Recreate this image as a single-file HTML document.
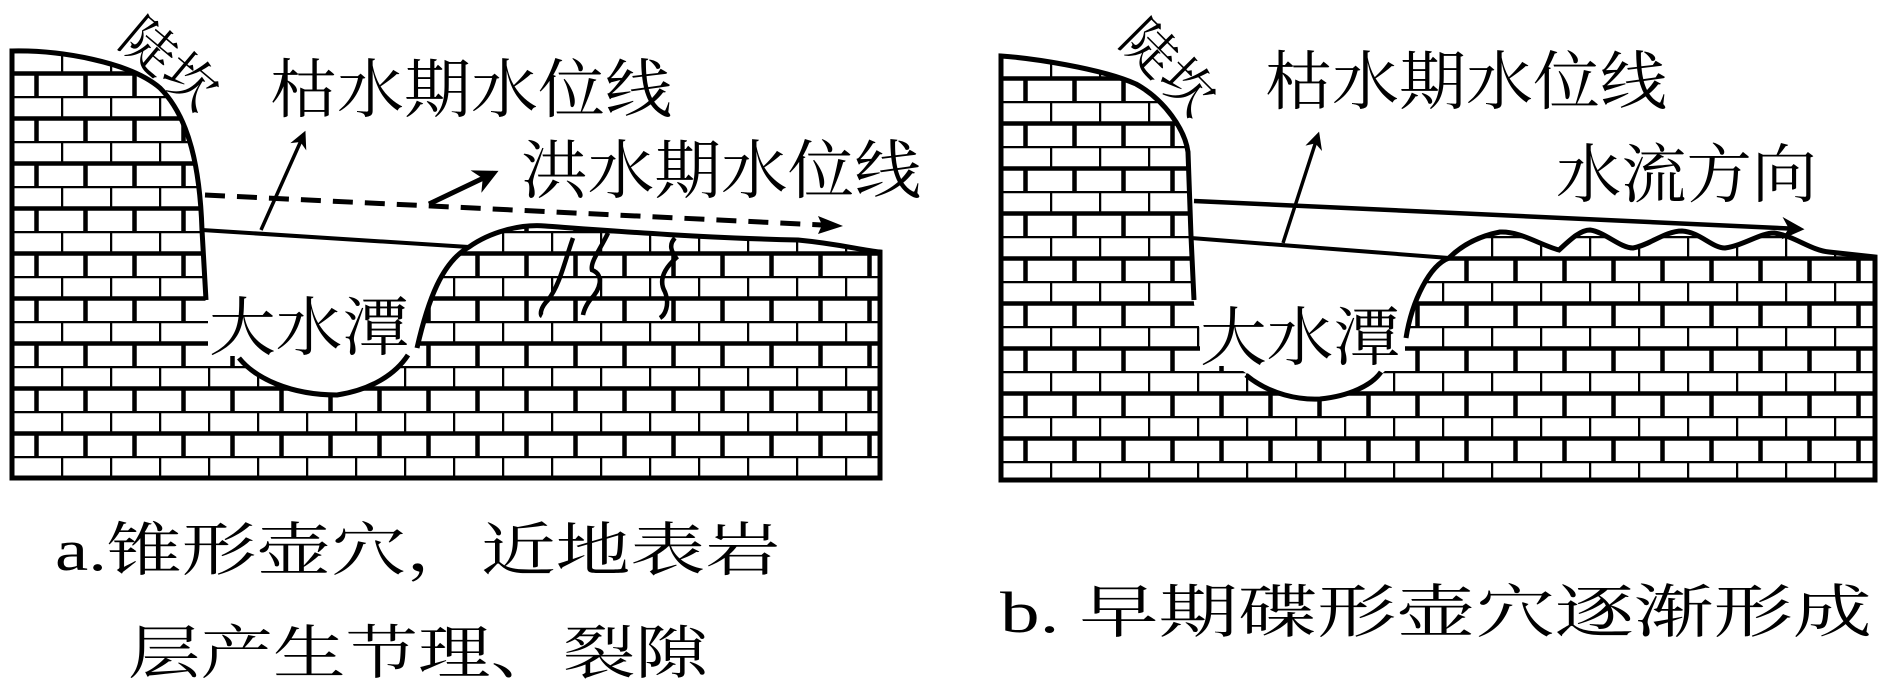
<!DOCTYPE html>
<html><head><meta charset="utf-8"><style>
html,body{margin:0;padding:0;background:#fff;}
svg{display:block;}
text{font-family:"Liberation Serif","Noto Serif CJK SC",serif;fill:#000;}
</style></head><body>
<svg width="1904" height="698" viewBox="0 0 1904 698" xmlns="http://www.w3.org/2000/svg">
<defs>
<pattern id="ba" x="12" y="51" width="49" height="45" patternUnits="userSpaceOnUse">
<path d="M0,0H49M0,22.5H49M0,0V22.5M24.5,22.5V45" stroke="#000" stroke-width="4.5" fill="none"/>
</pattern>
<pattern id="bb" x="1001" y="56" width="49" height="45" patternUnits="userSpaceOnUse">
<path d="M0,0H49M0,22.5H49M0,0V22.5M24.5,22.5V45" stroke="#000" stroke-width="4.5" fill="none"/>
</pattern>
<marker id="ah" viewBox="0 0 10 10" refX="8" refY="5" markerWidth="5" markerHeight="5" orient="auto">
<path d="M0,0L10,5L0,10L3,5Z" fill="#000"/>
</marker>
</defs>

<!-- Panel a -->
<path d="M12,51 C60,50 130,62 160,88 C190,118 200,170 202,230 L206,310 L228,345 C255,380 300,398 340,395 C380,388 400,368 417,345 C428,300 442,262 469,247 C490,232 520,224 545,226 C600,230 700,238 798,240 C840,244 860,250 880,252 L880,478 L12,478 Z" fill="url(#ba)" stroke="none"/>
<rect x="208" y="290" width="212" height="66" fill="#fff"/>
<path d="M239,358 C255,378 290,395 337,395 C370,390 395,375 408,355 M417,348 C428,300 442,262 469,247 C490,232 520,224 545,226 C600,230 700,238 798,240 C840,244 860,250 880,252 L880,478 L12,478 L12,51 C60,50 130,62 160,88 C190,118 200,170 202,230 L206,300" fill="none" stroke="#000" stroke-width="5"/>
<line x1="202" y1="230" x2="469" y2="247" stroke="#000" stroke-width="4"/>
<path d="M205,195 L822,225" stroke="#000" stroke-width="5" stroke-dasharray="20,12" fill="none"/>
<path d="M818,216 L843,226 L818,234 L822,225Z" fill="#000"/>
<line x1="261" y1="230" x2="304" y2="134" stroke="#000" stroke-width="3.5" marker-end="url(#ah)"/>
<line x1="429" y1="204" x2="494" y2="173" stroke="#000" stroke-width="5" marker-end="url(#ah)"/>
<path d="M573,238 C565,260 560,285 548,300 C540,308 540,315 542,316" stroke="#000" stroke-width="4.5" fill="none"/>
<path d="M608,233 C600,250 590,262 592,270 C605,275 600,290 590,300 C584,308 583,315 583,315" stroke="#000" stroke-width="4.5" fill="none"/>
<path d="M675,238 C668,245 672,252 676,258 C665,268 658,280 665,292 C670,305 665,315 660,318" stroke="#000" stroke-width="4.5" fill="none"/>
<text x="270" y="112" font-size="64" textLength="402" lengthAdjust="spacingAndGlyphs">枯水期水位线</text>
<text x="521" y="193" font-size="64" textLength="400" lengthAdjust="spacingAndGlyphs">洪水期水位线</text>
<text x="209" y="350" font-size="64" textLength="200" lengthAdjust="spacingAndGlyphs">大水潭</text>
<text transform="translate(128,30) rotate(40)" font-size="54" x="0" y="18">陡坎</text>

<!-- Panel b -->
<path d="M1001,56 C1030,58 1100,68 1136,84 C1165,100 1185,130 1188,152 L1191,236 L1194,304 L1200,331 L1225,355 C1250,382 1290,399 1320,399 C1350,396 1375,385 1395,360 L1406,338 C1412,300 1430,265 1449,258 C1462,245 1480,236 1500,232 C1520,231 1540,245 1559,250 C1570,240 1580,230 1590,230 C1605,232 1620,248 1633,248 C1650,245 1665,231 1682,231 C1700,232 1712,248 1725,248 C1745,245 1760,233 1774,233 C1795,236 1810,250 1829,252 L1875,257 L1875,480 L1001,480 Z" fill="url(#bb)" stroke="none"/>
<rect x="1200" y="300" width="205" height="66" fill="#fff"/>
<path d="M1246,375 C1270,395 1300,400 1320,399 C1350,396 1372,385 1381,372 M1406,338 C1412,300 1430,265 1449,258 C1462,245 1480,236 1500,232 C1520,231 1540,245 1559,250 C1570,240 1580,230 1590,230 C1605,232 1620,248 1633,248 C1650,245 1665,231 1682,231 C1700,232 1712,248 1725,248 C1745,245 1760,233 1774,233 C1795,236 1810,250 1829,252 L1875,257 L1875,480 L1001,480 L1001,56 C1030,58 1100,68 1136,84 C1165,100 1185,130 1188,152 L1191,236 L1194,300" fill="none" stroke="#000" stroke-width="5"/>
<line x1="1191" y1="238" x2="1449" y2="258" stroke="#000" stroke-width="4"/>
<line x1="1194" y1="201" x2="1800" y2="229" stroke="#000" stroke-width="4.5" marker-end="url(#ah)"/>
<line x1="1283" y1="243" x2="1318" y2="135" stroke="#000" stroke-width="3.5" marker-end="url(#ah)"/>
<text x="1265" y="104" font-size="64" textLength="402" lengthAdjust="spacingAndGlyphs">枯水期水位线</text>
<text x="1556" y="197" font-size="64" textLength="261" lengthAdjust="spacingAndGlyphs">水流方向</text>
<text x="1200" y="360" font-size="64" textLength="200" lengthAdjust="spacingAndGlyphs">大水潭</text>
<text transform="translate(1130,30) rotate(45)" font-size="54" x="0" y="18">陡坎</text>

<!-- Captions -->
<text x="55" y="570" font-size="58" textLength="725" lengthAdjust="spacingAndGlyphs">a.锥形壶穴，近地表岩</text>
<text x="128" y="673" font-size="58" textLength="580" lengthAdjust="spacingAndGlyphs">层产生节理、裂隙</text>
<text x="1000" y="632" font-size="58" textLength="872" lengthAdjust="spacingAndGlyphs">b. 早期碟形壶穴逐渐形成</text>
</svg>
</body></html>
